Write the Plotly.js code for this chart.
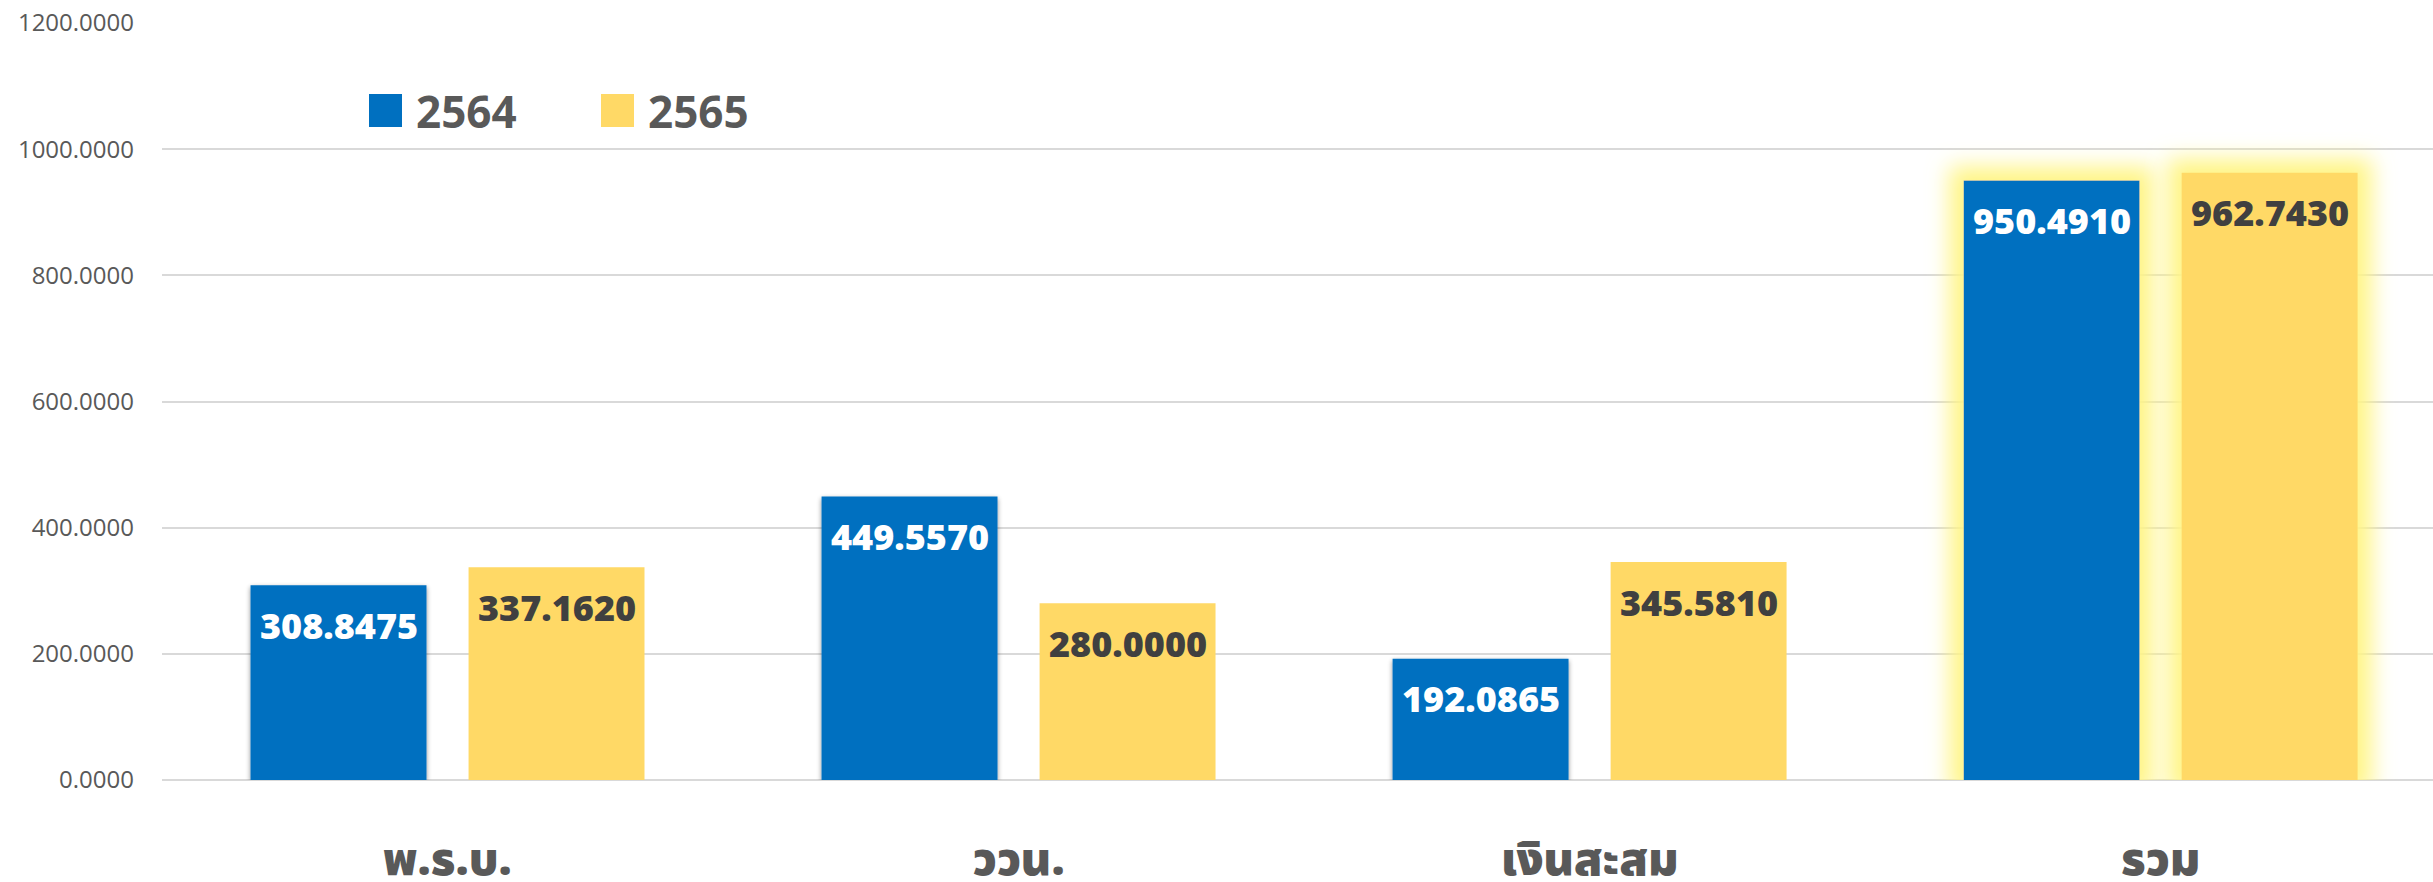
<!DOCTYPE html>
<html>
<head>
<meta charset="utf-8">
<script src="https://cdn.plot.ly/plotly-3.0.1.min.js"></script>
<style>
  html, body { margin: 0; padding: 0; background: #ffffff; }
  #chart { width: 2433px; height: 882px; }
</style>
</head>
<body>
<div id="chart"></div>
<script>
// ---- Data ----
var categories = ['พ.ร.บ.', 'ววน.', 'เงินสะสม', 'รวม'];
var seriesNames = ['2564', '2565'];
var values2564 = [308.8475, 449.5570, 192.0865, 950.4910];
var values2565 = [337.1620, 280.0000, 345.5810, 962.7430];
var yTickValues = [0, 200, 400, 600, 800, 1000, 1200];
var highlightCategory = 'รวม';

// ---- Style ----
var BLUE = '#0070C0';
var YELLOW = '#FFD966';
var GRID = '#D9D9D9';
var TEXT_GRAY = '#595959';
var BAR_GAP = 0.2364;
var BAR_GROUP_GAP = 0.193;
var NUM_FONT = '"Open Sans", "Noto Sans", Roboto, sans-serif';
var THAI_FONT = '"Noto Sans Thai", "Noto Sans Thai UI", "Noto Sans", "DejaVu Sans", sans-serif';

var allSeries = [values2564, values2565];
var colors = [BLUE, YELLOW];
var labelColors = ['#FFFFFF', '#404040'];

var data = allSeries.map(function (vals, i) {
  return {
    type: 'bar',
    name: seriesNames[i],
    x: categories,
    y: vals,
    marker: { color: colors[i], line: { width: 0 } },
    hoverinfo: 'skip'
  };
});

// value labels placed in data coordinates, via the axes
var slot = (1 - BAR_GAP) / allSeries.length;
var annotations = [];
allSeries.forEach(function (vals, i) {
  var offset = -(1 - BAR_GAP) / 2 + slot * (i + 0.5);
  vals.forEach(function (v, j) {
    annotations.push({
      x: j + offset,
      y: v,
      xref: 'x',
      yref: 'y',
      text: v.toFixed(4),
      showarrow: false,
      xanchor: 'center',
      yanchor: 'middle',
      yshift: -40,
      font: { family: NUM_FONT, size: 36, weight: 800, color: labelColors[i] }
    });
  });
});

var layout = {
  width: 2433,
  height: 882,
  margin: { l: 162, r: 0, t: 23, b: 102, pad: 0, autoexpand: false },
  paper_bgcolor: '#FFFFFF',
  plot_bgcolor: '#FFFFFF',
  barmode: 'group',
  bargap: BAR_GAP,
  bargroupgap: BAR_GROUP_GAP,
  showlegend: true,
  legend: {
    orientation: 'h',
    xref: 'paper',
    yref: 'paper',
    x: (366 - 162) / 2271,
    xanchor: 'left',
    y: (780 - 111) / 757,
    yanchor: 'middle',
    entrywidth: 187,
    font: { family: NUM_FONT, size: 44, weight: 700, color: TEXT_GRAY },
    bgcolor: 'rgba(0,0,0,0)',
    borderwidth: 0
  },
  xaxis: {
    type: 'category',
    range: [-0.5, 3.477],
    showgrid: false,
    showline: false,
    zeroline: false,
    ticks: '',
    ticklabelstandoff: 48,
    tickfont: { family: THAI_FONT, size: 46, weight: 900, color: TEXT_GRAY },
    fixedrange: true
  },
  yaxis: {
    range: [0, 1200],
    tickvals: yTickValues,
    tickformat: '.4f',
    showgrid: true,
    gridcolor: GRID,
    gridwidth: 2,
    zeroline: true,
    zerolinecolor: GRID,
    zerolinewidth: 2,
    showline: false,
    ticks: '',
    ticklabelstandoff: 27,
    tickfont: { family: NUM_FONT, size: 24, color: TEXT_GRAY },
    fixedrange: true
  },
  annotations: annotations
};

var gd = document.getElementById('chart');
Plotly.newPlot(gd, data, layout, { displayModeBar: false, staticPlot: true }).then(function () {
  var NS = 'http://www.w3.org/2000/svg';
  var svg = gd.querySelector('svg.main-svg');
  var defs = svg.querySelector('defs') || svg.insertBefore(document.createElementNS(NS, 'defs'), svg.firstChild);

  function el(tag, attrs, parent) {
    var e = document.createElementNS(NS, tag);
    for (var k in attrs) e.setAttribute(k, attrs[k]);
    if (parent) parent.appendChild(e);
    return e;
  }
  // soft drop shadow
  var sh = el('filter', { id: 'barShadow', x: '-20%', y: '-20%', width: '140%', height: '140%' }, defs);
  el('feGaussianBlur', { 'in': 'SourceAlpha', stdDeviation: '2.5', result: 'blur' }, sh);
  el('feOffset', { 'in': 'blur', dx: '0', dy: '2', result: 'off' }, sh);
  var ct = el('feComponentTransfer', { 'in': 'off', result: 'soft' }, sh);
  el('feFuncA', { type: 'linear', slope: '0.45' }, ct);
  var m1 = el('feMerge', {}, sh);
  el('feMergeNode', { 'in': 'soft' }, m1);
  el('feMergeNode', { 'in': 'SourceGraphic' }, m1);

  // yellow glow
  var gl = el('filter', { id: 'barGlow', x: '-50%', y: '-20%', width: '200%', height: '140%' }, defs);
  el('feMorphology', { 'in': 'SourceAlpha', operator: 'dilate', radius: '14', result: 'dil' }, gl);
  el('feGaussianBlur', { 'in': 'dil', stdDeviation: '11', result: 'gblur' }, gl);
  el('feFlood', { 'flood-color': '#FFF585', 'flood-opacity': '1', result: 'flood' }, gl);
  el('feComposite', { 'in': 'flood', in2: 'gblur', operator: 'in', result: 'glow' }, gl);
  var m2 = el('feMerge', {}, gl);
  el('feMergeNode', { 'in': 'glow' }, m2);
  el('feMergeNode', { 'in': 'SourceGraphic' }, m2);

  var hi = categories.indexOf(highlightCategory);
  var traces = gd.querySelectorAll('.barlayer .trace');
  traces.forEach(function (tr, i) {
    tr.querySelectorAll('.point').forEach(function (pt, j) {
      var path = pt.querySelector('path') || pt;
      if (j === hi) path.setAttribute('filter', 'url(#barGlow)');
      else if (i === 0) path.setAttribute('filter', 'url(#barShadow)');
    });
  });

  // enlarge legend swatches and keep a gap before the text
  gd.querySelectorAll('.legend .traces .legendpoints path').forEach(function (p) {
    p.setAttribute('d', 'M16,16.5H-17V-16.5H16Z');
  });
  gd.querySelectorAll('.legend .traces text.legendtext').forEach(function (t) {
    t.setAttribute('x', '50');
    t.querySelectorAll('tspan[x]').forEach(function (s) { s.setAttribute('x', '50'); });
  });
});
</script>
</body>
</html>
